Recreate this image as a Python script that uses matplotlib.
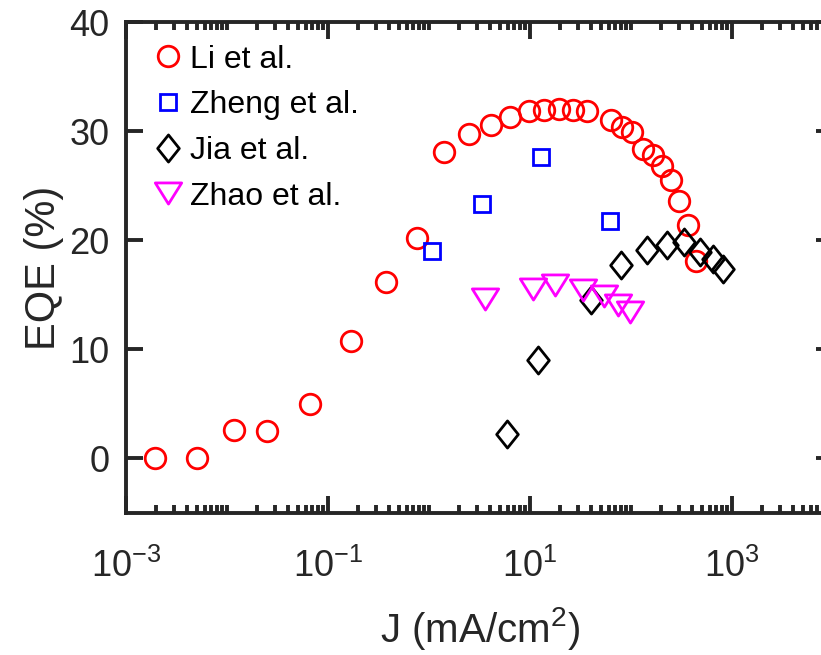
import numpy as np
import matplotlib
matplotlib.use('Agg')
import matplotlib.pyplot as plt
from matplotlib.path import Path
from matplotlib.ticker import NullFormatter

plt.rcParams['font.family'] = ['Liberation Sans', 'DejaVu Sans']
plt.rcParams['mathtext.fontset'] = 'custom'
plt.rcParams['mathtext.rm'] = 'Liberation Sans'
plt.rcParams['mathtext.it'] = 'Liberation Sans'

# data
li_j   = [1.94e-3, 5.08e-3, 0.0116, 0.0251, 0.066, 0.170, 0.375, 0.76,
          1.42, 2.49, 4.08, 6.38, 9.7, 13.8, 19.5, 26.8, 36.4, 62.9,
          80.8, 103, 132, 164, 201, 249, 301, 366, 437]
li_eqe = [0.0, 0.0, 2.6, 2.5, 5.0, 10.8, 16.2, 20.2,
          28.1, 29.7, 30.6, 31.3, 31.8, 31.9, 32.0, 31.9, 31.8, 31.0,
          30.4, 29.9, 28.4, 27.8, 26.8, 25.5, 23.6, 21.4, 18.1]

zheng_j   = [1.06, 3.33, 12.9, 62.4]
zheng_eqe = [19.0, 23.3, 27.6, 21.8]

jia_j   = [5.97, 12.0, 39.9, 79.6, 143, 229, 335, 482, 653, 820]
jia_eqe = [2.2, 9.0, 14.5, 17.7, 19.1, 19.6, 19.8, 18.9, 18.3, 17.4]

zhao_j   = [3.58, 10.6, 17.7, 33.7, 54.5, 73.8, 97.7]
zhao_eqe = [14.6, 15.5, 15.9, 15.4, 14.9, 14.1, 13.4]

diamond = Path([(0, 1), (0.8, 0), (0, -1), (-0.8, 0), (0, 1)],
               [Path.MOVETO, Path.LINETO, Path.LINETO, Path.LINETO, Path.CLOSEPOLY])
tri_down = Path([(-1, 0.8), (1, 0.8), (0, -0.8), (-1, 0.8)],
                [Path.MOVETO, Path.LINETO, Path.LINETO, Path.CLOSEPOLY])

fig = plt.figure(figsize=(8.21, 6.55), dpi=100)
ax = fig.add_axes([126/821, 1-513/655, 707/821, 491/655])

mew = 2.0
ax.plot(li_j, li_eqe, 'o', ls='none', ms=14.8, mfc='none', mec='#FF0000', mew=mew, label='Li et al.')
ax.plot(zheng_j, zheng_eqe, 's', ls='none', ms=11, mfc='none', mec='#0000FF', mew=mew, label='Zheng et al.')
ax.plot(jia_j, jia_eqe, marker=diamond, ls='none', ms=19.5, mfc='none', mec='black', mew=mew, label='Jia et al.')
ax.plot(zhao_j, zhao_eqe, marker=tri_down, ls='none', ms=19, mfc='none', mec='#FF00FF', mew=mew, label='Zhao et al.')

ax.set_xscale('log')
ax.set_xlim(1e-3, 1e4)
ax.set_ylim(-5, 40)

ax.set_xticks([1e-3, 1e-1, 1e1, 1e3])
ax.set_xticklabels([r'$\mathregular{10^{-3}}$', r'$\mathregular{10^{-1}}$',
                    r'$\mathregular{10^{1}}$', r'$\mathregular{10^{3}}$'])
minors = [k * 10.0**d for d in range(-3, 4) for k in range(2, 10)] + [1e-2, 1, 1e2]
ax.set_xticks(minors, minor=True)
ax.xaxis.set_minor_formatter(NullFormatter())
ax.set_yticks([0, 10, 20, 30, 40])

gray = '#262626'
for s in ax.spines.values():
    s.set_linewidth(2.8)
    s.set_color(gray)
ax.spines['right'].set_visible(False)
ax.tick_params(which='major', direction='in', length=12, width=2.8, top=True, right=True,
               labelsize=26, colors=gray)
ax.tick_params(axis='y', which='major', pad=12)
ax.tick_params(axis='x', which='major', pad=26)
ax.tick_params(which='minor', direction='in', length=6, width=2.8, top=True, right=True,
               colors=gray)
ax.tick_params(axis='y', which='minor', left=False, right=False)

ax.set_xlabel(r'J (mA/cm$\mathregular{^2}$)', fontsize=29, color=gray, labelpad=14)
ax.set_ylabel('EQE (%)', fontsize=30, color=gray, labelpad=4)

leg = ax.legend(loc='upper left', bbox_to_anchor=(0.0, 1.01), frameon=False, fontsize=23,
                handlelength=0.9, handletextpad=0.24, labelspacing=0.49, borderaxespad=0.46)

fig.savefig('out.png', dpi=100)
